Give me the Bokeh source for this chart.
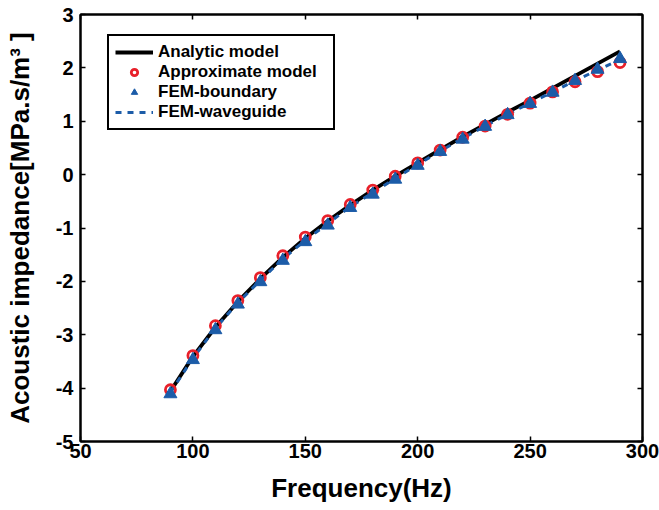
from bokeh.plotting import figure
from bokeh.models import LinearAxis, Legend, LegendItem, FixedTicker, Range1d, PrintfTickFormatter
from bokeh.embed import file_html
from bokeh.resources import INLINE

freq = [90, 100, 110, 120, 130, 140, 150, 160, 170, 180, 190,
        200, 210, 220, 230, 240, 250, 260, 270, 280, 290]
analytic = [-4.06, -3.41, -2.86, -2.38, -1.95, -1.55, -1.19, -0.87, -0.57, -0.29, -0.03,
            0.22, 0.47, 0.71, 0.94, 1.17, 1.39, 1.62, 1.85, 2.08, 2.31]
approx = [-4.03, -3.39, -2.83, -2.36, -1.93, -1.52, -1.17, -0.86, -0.56, -0.29, -0.03,
          0.22, 0.46, 0.70, 0.91, 1.13, 1.34, 1.55, 1.74, 1.93, 2.10]
fem_boundary = [-4.11, -3.47, -2.91, -2.43, -2.01, -1.61, -1.26, -0.95, -0.62, -0.37, -0.09,
                0.17, 0.43, 0.66, 0.90, 1.12, 1.33, 1.54, 1.76, 1.97, 2.17]
fem_waveguide = [-4.08, -3.44, -2.88, -2.40, -1.98, -1.58, -1.23, -0.92, -0.60, -0.34, -0.07,
                 0.19, 0.44, 0.68, 0.91, 1.13, 1.34, 1.55, 1.76, 1.96, 2.15]
x_ticks = [50, 100, 150, 200, 250, 300]
y_ticks = [-5, -4, -3, -2, -1, 0, 1, 2, 3]
x_label = "Frequency(Hz)"
y_label = "Acoustic impedance[MPa.s/m\u00b3 ]"

FONT = "Liberation Sans"
RED = "#e8202a"
BLUE = "#1c5ca8"

p = figure(width=659, height=510,
           x_range=Range1d(50, 300), y_range=Range1d(-5, 3),
           output_backend="svg", toolbar_location=None,
           min_border_left=80, min_border_right=17, min_border_top=14, min_border_bottom=69,
           x_axis_label=x_label, y_axis_label=y_label)
p.grid.visible = False
p.outline_line_color = "black"
p.outline_line_width = 2
p.background_fill_color = "white"
p.border_fill_color = "white"

for ax in (p.xaxis[0], p.yaxis[0]):
    ax.axis_line_width = 2
    ax.axis_line_color = "black"
    ax.major_tick_in = 5
    ax.major_tick_out = 0
    ax.major_tick_line_width = 1.5
    ax.minor_tick_line_color = None
    ax.major_label_text_font = FONT
    ax.major_label_text_font_style = "bold"
    ax.major_label_text_font_size = "20px"
    ax.major_label_text_color = "black"
    ax.axis_label_text_font = FONT
    ax.axis_label_text_font_style = "bold"
    ax.axis_label_text_font_size = "26px"
    ax.axis_label_text_color = "black"
    ax.formatter = PrintfTickFormatter(format="%d")
p.xaxis[0].ticker = FixedTicker(ticks=x_ticks)
p.yaxis[0].ticker = FixedTicker(ticks=y_ticks)
p.xaxis[0].major_label_standoff = 2
p.xaxis[0].axis_label_standoff = 12
p.yaxis[0].major_label_standoff = 7
p.yaxis[0].axis_label_standoff = 18

for side, tick in (("right", y_ticks), ("above", x_ticks)):
    ax = LinearAxis(ticker=FixedTicker(ticks=tick))
    ax.axis_line_width = 2
    ax.major_tick_in = 5
    ax.major_tick_out = 0
    ax.major_tick_line_width = 1.5
    ax.minor_tick_line_color = None
    ax.major_label_text_font_size = "0px"
    ax.major_label_standoff = 0
    p.add_layout(ax, side)

r_an = p.line(freq, analytic, line_color="black", line_width=3.8)
r_wg = p.line(freq, fem_waveguide, line_color=BLUE, line_width=3, line_dash="6 6")
r_ap = p.scatter(freq, approx, marker="circle", size=10, fill_color=None,
                 line_color=RED, line_width=2.8)
r_fb = p.scatter(freq, fem_boundary, marker="triangle", size=13, fill_color=BLUE,
                 line_color=BLUE, line_width=1)

legend = Legend(items=[
    LegendItem(label="Analytic model", renderers=[r_an]),
    LegendItem(label="Approximate model", renderers=[r_ap]),
    LegendItem(label="FEM-boundary", renderers=[r_fb]),
    LegendItem(label="FEM-waveguide", renderers=[r_wg]),
], location=(27, 311))
legend.border_line_color = "black"
legend.border_line_width = 2
legend.border_line_alpha = 1
legend.background_fill_color = "white"
legend.background_fill_alpha = 1
legend.label_text_font = FONT
legend.label_text_font_style = "bold"
legend.label_text_font_size = "17px"
legend.label_text_color = "black"
legend.glyph_width = 38
legend.glyph_height = 16
legend.label_height = 16
legend.label_standoff = 5
legend.label_width = 169
legend.spacing = 0
legend.padding = 6
legend.margin = 0
p.add_layout(legend, "center")

open("out.html", "w").write(file_html(p, INLINE))
